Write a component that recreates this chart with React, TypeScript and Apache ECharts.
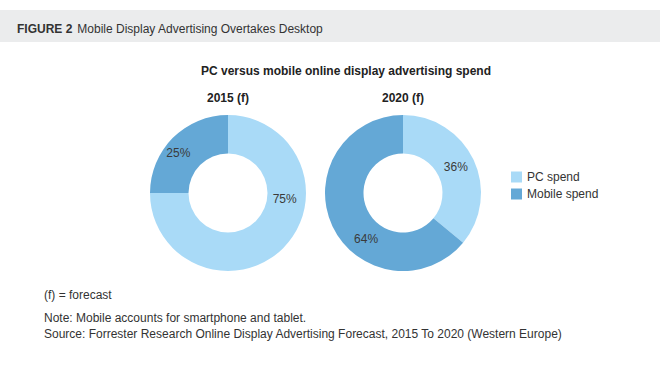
import React, { useEffect, useRef } from "react";
import * as echarts from "echarts";

const categories = ["PC spend", "Mobile spend"];
const years = ["2015 (f)", "2020 (f)"];
const values2015 = [75, 25];
const values2020 = [36, 64];
const colors = ["#a9daf7", "#64a8d6"];

const headerBold = "FIGURE 2";
const headerText = "Mobile Display Advertising Overtakes Desktop";
const chartTitle = "PC versus mobile online display advertising spend";
const footnote = "(f) = forecast";
const note = "Note: Mobile accounts for smartphone and tablet.";
const source = "Source: Forrester Research Online Display Advertising Forecast, 2015 To 2020 (Western Europe)";

const FONT = "Helvetica, Arial, 'Liberation Sans', sans-serif";

// label offsets (visual placement of percentage labels)
const offsets2015: [number, number][] = [[13, -38], [-6, 4]];
const offsets2020: [number, number][] = [[-3, 0], [19, 20]];

export default function App() {
  const ref = useRef<HTMLDivElement>(null);
  useEffect(() => {
    document.body.style.margin = "0";
    const chart = echarts.init(ref.current!, null, { renderer: "svg" });
    const mkData = (vals: number[], offs: [number, number][]) =>
      vals.map((v, i) => ({
        name: categories[i],
        value: v,
        itemStyle: { color: colors[i] },
        label: { offset: offs[i] },
      }));
    const pieBase = {
      type: "pie",
      radius: [39.5, 78],
      startAngle: 90,
      clockwise: true,
      avoidLabelOverlap: false,
      label: {
        show: true,
        position: "inside",
        formatter: "{c}%",
        color: "#3a3a3a",
        fontSize: 12,
        fontFamily: FONT,
      },
      labelLine: { show: false },
      emphasis: { disabled: true },
      itemStyle: { borderWidth: 0 },
    };
    const bold = { fontWeight: "bold", fontSize: 12, color: "#222", fontFamily: FONT };
    const plain = { fontWeight: "normal", fontSize: 12, color: "#333", fontFamily: FONT };
    chart.setOption({
      animation: false,
      backgroundColor: "#ffffff",
      graphic: [
        {
          type: "rect",
          shape: { x: 0, y: 10, width: 660, height: 32 },
          style: { fill: "#ebeced" },
          z: -1,
        },
      ],
      title: [
        {
          text: `{b|${headerBold}} {n|${headerText}}`,
          left: 17,
          top: 20,
          padding: 0,
          textStyle: {
            fontWeight: "normal",
            rich: {
              b: { fontWeight: "bold", fontSize: 12, color: "#333", fontFamily: FONT },
              n: { fontWeight: "normal", fontSize: 12, color: "#333", fontFamily: FONT },
            },
          },
        },
        { text: chartTitle, left: 346, top: 65, padding: 0, textAlign: "center", textStyle: bold },
        { text: years[0], left: 228, top: 92, padding: 0, textAlign: "center", textStyle: bold },
        { text: years[1], left: 403, top: 92, padding: 0, textAlign: "center", textStyle: bold },
        { text: footnote, left: 44, top: 289, padding: 0, textStyle: plain },
        {
          text: note + "\n" + source,
          left: 44,
          top: 310,
          padding: 0,
          textStyle: { ...plain, lineHeight: 16 },
        },
      ],
      legend: {
        orient: "vertical",
        left: 511,
        top: 171,
        padding: 0,
        icon: "rect",
        itemWidth: 11,
        itemHeight: 11,
        itemGap: 5,
        data: categories,
        textStyle: { fontSize: 12, color: "#333", fontFamily: FONT },
        selectedMode: false,
      },
      series: [
        { ...pieBase, name: years[0], center: [228, 193], data: mkData(values2015, offsets2015) },
        { ...pieBase, name: years[1], center: [403, 193], data: mkData(values2020, offsets2020) },
      ],
    });
    return () => chart.dispose();
  }, []);
  return <div ref={ref} style={{ width: 660, height: 369 }} />;
}
